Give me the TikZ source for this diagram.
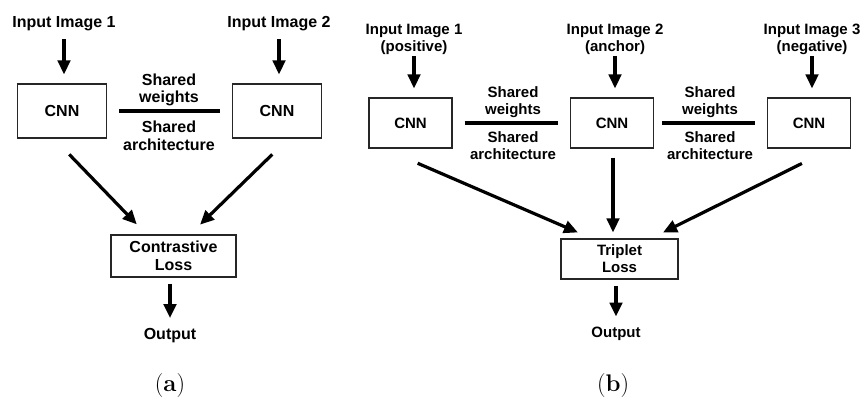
\documentclass[tikz,border=0pt]{standalone}
\usepackage{fontspec}
\newfontfamily\arial{Liberation Sans}
\usetikzlibrary{arrows.meta}
\tikzset{
  ta/.style={font=\arial\bfseries\fontsize{16}{17.6}\selectfont, inner sep=1pt, align=center},
  tb/.style={font=\arial\bfseries\fontsize{15}{17}\selectfont, inner sep=1pt, align=center},
  boxs/.style={draw=black!85, line width=1.2pt, fill=white},
  arr/.style={line width=3.2pt, -{Triangle[length=14pt,width=12.5pt]}},
  shline/.style={line width=3.8pt},
  capt/.style={font=\fontsize{24}{28}\selectfont, inner sep=0pt}
}
\begin{document}
\begin{tikzpicture}[x=1pt,y=-1pt]
\useasboundingbox (0,0) rectangle (866,399);
% ---------- (a) ----------
\node[ta] (ain1) at (64,24) {Input Image 1};
\node[ta] (ain2) at (279,24) {Input Image 2};
\node[ta,boxs,minimum width=89pt,minimum height=54pt] (ac1) at (62,111) {CNN};
\node[ta,boxs,minimum width=89pt,minimum height=54pt] (ac2) at (277,111) {CNN};
\node[ta] (asw) at (169,90) {Shared\\weights};
\node[ta] (asa) at (169,135.5) {Shared\\architecture};
\node[ta,boxs,minimum width=125pt,minimum height=42pt] (aloss) at (173.5,256) {Contrastive\\Loss};
\node[ta] (aout) at (170,336) {Output};
\node[capt] (acap) at (170,386) {(\textbf{a})};
\draw[arr, shorten <=7pt, shorten >=9pt] (ain1.south) -- (ain1.south |- ac1.north);
\draw[arr, shorten <=7pt, shorten >=9pt] (ain2.south) -- (ain2.south |- ac2.north);
\draw[shline, shorten <=12pt, shorten >=12pt] (ac1) -- (ac2);
\draw[arr, shorten <=22pt, shorten >=14pt] ([xshift=-8pt]ac1.south) -- ([xshift=-27pt]aloss.north);
\draw[arr, shorten <=22.6pt, shorten >=14pt] ([xshift=11.5pt]ac2.south) -- ([xshift=16.5pt]aloss.north);
\draw[arr, shorten <=6pt, shorten >=9.5pt] (aloss.south -| aout.north) -- (aout.north);
% ---------- (b) ----------
\node[tb] (bin1) at (414,39.5) {Input Image 1\\(positive)};
\node[tb] (bin2) at (615,39.5) {Input Image 2\\(anchor)};
\node[tb] (bin3) at (812,39.5) {Input Image 3\\(negative)};
\node[tb,boxs,minimum width=83pt,minimum height=50pt] (bc1) at (410.5,123) {CNN};
\node[tb,boxs,minimum width=83pt,minimum height=50pt] (bc2) at (612,123) {CNN};
\node[tb,boxs,minimum width=83pt,minimum height=50pt] (bc3) at (809,123) {CNN};
\node[tb] (bsw1) at (513,102.5) {Shared\\weights};
\node[tb] (bsa1) at (513,145.5) {Shared\\architecture};
\node[tb] (bsw2) at (710,102.5) {Shared\\weights};
\node[tb] (bsa2) at (710,145.5) {Shared\\architecture};
\node[tb,boxs,minimum width=117pt,minimum height=40pt] (bloss) at (619.5,259) {Triplet\\Loss};
\node[tb] (bout) at (616,334) {Output};
\node[capt] (bcap) at (613,386) {(\textbf{b})};
\draw[arr, shorten <=0pt, shorten >=9pt] (bin1.south) -- (bin1.south |- bc1.north);
\draw[arr, shorten <=0pt, shorten >=9pt] (bin2.south) -- (bin2.south |- bc2.north);
\draw[arr, shorten <=0pt, shorten >=9pt] (bin3.south) -- (bin3.south |- bc3.north);
\draw[shline, shorten <=12pt, shorten >=12pt] (bc1) -- (bc2);
\draw[shline, shorten <=8pt, shorten >=12pt] (bc2) -- (bc3);
\draw[arr, shorten <=37pt, shorten >=15pt] ([xshift=-26.8pt]bc1.south) -- ([xshift=-27.8pt]bloss.north);
\draw[arr, shorten <=9pt, shorten >=6pt] ([xshift=1pt]bc2.south) -- ([xshift=1pt]bc2.south |- bloss.north);
\draw[arr, shorten <=33.4pt, shorten >=13.3pt] ([xshift=22.8pt]bc3.south) -- ([xshift=31.6pt]bloss.north);
\draw[arr, shorten <=6pt, shorten >=9.5pt] (bloss.south -| bout.north) -- (bout.north);
\end{tikzpicture}
\end{document}
